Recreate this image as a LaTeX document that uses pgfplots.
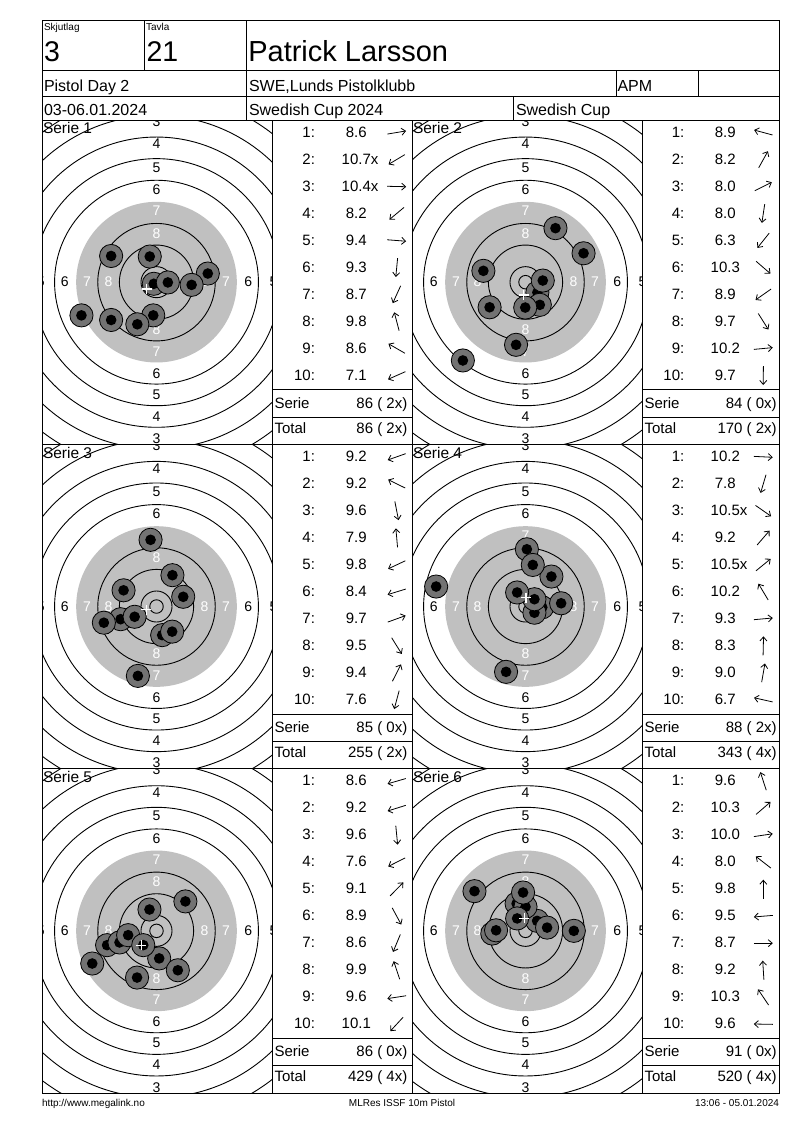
\documentclass[border=0pt]{standalone}
\usepackage{fontspec}
\setmainfont{Liberation Sans}
\usepackage{pgfplots}
\pgfplotsset{compat=1.18}
\usetikzlibrary{arrows.meta}
\definecolor{tgray}{RGB}{192,192,192}
\definecolor{sgray}{RGB}{115,115,115}
\newcommand\fs[1]{\fontsize{#1}{#1}\selectfont}

\pgfdeclareplotmark{shot}{%
  \pgfsetfillcolor{sgray}\pgfsetstrokecolor{black}%
  \pgfpathcircle{\pgfpointorigin}{\pgfplotmarksize}%
  \pgfusepath{fill,stroke}%
  \pgfsetfillcolor{black}%
  \pgfpathcircle{\pgfpointorigin}{0.46\pgfplotmarksize}%
  \pgfusepath{fill}%
}

\newcommand\target{%
  \fill[tgray] (axis cs:0,0) circle[radius=29.75];
  \draw[line width=0.9pt] (axis cs:0,0) circle[radius=2.5];
  \draw[line width=0.9pt] (axis cs:0,0) circle[radius=5.75];
  \draw[line width=0.9pt] (axis cs:0,0) circle[radius=13.75];
  \draw[line width=0.9pt] (axis cs:0,0) circle[radius=21.75];
  \draw[line width=0.9pt] (axis cs:0,0) circle[radius=37.75];
  \draw[line width=0.9pt] (axis cs:0,0) circle[radius=45.75];
  \draw[line width=0.9pt] (axis cs:0,0) circle[radius=53.75];
  \draw[line width=0.9pt] (axis cs:0,0) circle[radius=61.75];
  \draw[line width=0.9pt] (axis cs:0,0) circle[radius=69.75];
  \begin{scope}
  \clip (rel axis cs:0,0) rectangle (rel axis cs:1,1);
  \node[text=white,font=\fs{14}] at (axis cs:0,18.1) {8};
  \node[text=white,font=\fs{14}] at (axis cs:0,26.3) {7};
  \node[font=\fs{14}] at (axis cs:0,34.3) {6};
  \node[font=\fs{14}] at (axis cs:0,42.5) {5};
  \node[font=\fs{14}] at (axis cs:0,51.2) {4};
  \node[font=\fs{14}] at (axis cs:0,59.6) {3};
  \node[text=white,font=\fs{14}] at (axis cs:0,-17.6) {8};
  \node[text=white,font=\fs{14}] at (axis cs:0,-25.6) {7};
  \node[font=\fs{14}] at (axis cs:0,-33.8) {6};
  \node[font=\fs{14}] at (axis cs:0,-41.6) {5};
  \node[font=\fs{14}] at (axis cs:0,-49.7) {4};
  \node[font=\fs{14}] at (axis cs:0,-58.0) {3};
  \node[text=white,font=\fs{14}] at (axis cs:-17.75,0) {8};
  \node[text=white,font=\fs{14}] at (axis cs:-25.75,0) {7};
  \node[font=\fs{14}] at (axis cs:-34.0,0) {6};
  \node[font=\fs{14}] at (axis cs:-42.9,0) {5};
  \node[text=white,font=\fs{14}] at (axis cs:17.75,0) {8};
  \node[text=white,font=\fs{14}] at (axis cs:25.75,0) {7};
  \node[font=\fs{14}] at (axis cs:34.0,0) {6};
  \node[font=\fs{14}] at (axis cs:43.3,0) {5};
  \end{scope}
}

\pgfplotsset{
  tgt/.style={anchor=south west,width=230pt,height=324.33pt,scale only axis,
    axis lines=none,ticks=none,clip=true,ymin=-60.06,ymax=60.06},
  lcol/.style={xmin=-42.41,xmax=42.78},
  rcol/.style={xmin=-42.04,xmax=43.15},
  shots/.style={only marks,mark=shot,mark size=11.6pt,line width=0.8pt},
  mean/.style={only marks,mark=+,mark size=5pt,white,line width=1.3pt},
}

% #1 idx x, #2 val x, #3 arrow x, #4 panel top, #5 row, #6 score, #7 sx, #8 sy
\newcommand\trow[8]{%
  \pgfmathsetmacro\yb{#4+17.3+27*(#5-1)}%
  \pgfmathsetmacro\yc{\yb-4.8}%
  \pgfmathsetmacro\ang{atan2(#8,#7)}%
  \node[anchor=base east] at (#1,\yb) {#5:};
  \node[anchor=base west] at (#2,\yb) {#6};
  \draw[line width=0.8pt,-{Straight Barb[length=4pt,width=7pt]}]
    ({#3-9.5*cos(\ang)},{\yc+9.5*sin(\ang)}) -- ({#3+9.5*cos(\ang)},{\yc-9.5*sin(\ang)});
}
\newcommand\lrow[5]{\trow{315}{341.7}{396.7}{#1}{#2}{#3}{#4}{#5}}
\newcommand\rrow[5]{\trow{684.3}{710.7}{763.3}{#1}{#2}{#3}{#4}{#5}}
% #1 table left, #2 table right line, #3 text left, #4 text right, #5 T, #6 serie, #7 total
\newcommand\summ[7]{%
  \draw[line width=1pt] (#1,{#5+269.7}) -- (#2,{#5+269.7});
  \draw[line width=1pt] (#1,{#5+297.3}) -- (#2,{#5+297.3});
  \node[anchor=base west] at (#3,{#5+288}) {Serie};
  \node[anchor=base east] at (#4,{#5+288}) {#6};
  \node[anchor=base west] at (#3,{#5+313}) {Total};
  \node[anchor=base east] at (#4,{#5+313}) {#7};
}

\begin{document}
\begin{tikzpicture}
\path[use as bounding box, fill=white] (0,0) rectangle (800pt,-1130pt);

% ---------- Serie 1 ----------
\begin{axis}[tgt,lcol,at={(42pt,-444.33pt)}]
\target
\addplot[shots] coordinates {(19.0,3.2) (-1.0,-0.6) (4.2,-0.1) (-16.8,-14.0) (13.0,-1.0)
  (-1.2,-12.3) (-7.1,-15.6) (-2.5,9.5) (-16.8,9.7) (-27.8,-12.3)};
\addplot[mean] coordinates {(-3.7,-2.5)};
\end{axis}
% ---------- Serie 2 ----------
\begin{axis}[tgt,rcol,at={(412pt,-444.33pt)}]
\target
\addplot[shots] coordinates {(-15.6,4.2) (11.1,20.0) (21.5,10.7) (-3.5,-23.2) (-23.2,-29.0)
  (4.4,-3.8) (-13.3,-9.3) (5.3,-8.4) (6.4,0.6) (-0.1,-9.4)};
\addplot[mean] coordinates {(-0.7,-4.8)};
\end{axis}
% ---------- Serie 3 ----------
\begin{axis}[tgt,lcol,at={(42pt,-768.67pt)}]
\target
\addplot[shots] coordinates {(-13.3,-4.7) (-12.2,6.0) (2.1,-10.6) (-2.2,24.7) (-8.1,-3.8)
  (-19.5,-6.0) (9.9,3.6) (5.8,-9.3) (5.9,11.6) (-6.9,-25.7)};
\addplot[mean] coordinates {(-3.8,-1.2)};
\end{axis}
% ---------- Serie 4 ----------
\begin{axis}[tgt,rcol,at={(412pt,-768.67pt)}]
\target
\addplot[shots] coordinates {(6.2,-0.3) (-7.2,-24.2) (3.3,-2.3) (9.6,11.1) (3.3,2.7)
  (-3.1,5.2) (13.2,1.2) (0.5,21.2) (2.7,15.4) (-33.1,7.4)};
\addplot[mean] coordinates {(0.2,3.3)};
\end{axis}
% ---------- Serie 5 ----------
\begin{axis}[tgt,lcol,at={(42pt,-1093pt)}]
\target
\addplot[shots] coordinates {(-18.3,-5.3) (-13.7,-4.3) (1.0,-10.2) (-23.8,-12.1) (10.7,10.9)
  (7.9,-14.6) (-7.2,-17.3) (-2.6,7.9) (-10.5,-1.6) (-4.9,-5.3)};
\addplot[mean] coordinates {(-5.6,-5.4)};
\end{axis}
% ---------- Serie 6 ----------
\begin{axis}[tgt,rcol,at={(412pt,-1093pt)}]
\target
\addplot[shots] coordinates {(-3.3,10.1) (4.3,3.7) (8.0,1.2) (-18.9,14.7) (0.0,8.9)
  (-12.3,-1.0) (17.9,0.0) (-0.9,14.2) (-3.1,4.6) (-10.9,0.2)};
\addplot[mean] coordinates {(-0.5,4.7)};
\end{axis}

\begin{scope}[x=1pt,y=-1pt,every node/.style={inner sep=0pt,outer sep=0pt}]
% frame and grid
\draw[line width=1pt] (42,20) rectangle (779,1093);
\draw[line width=1pt] (42,70) -- (779,70);
\draw[line width=1pt] (42,96) -- (779,96);
\draw[line width=1pt] (42,120) -- (779,120);
\draw[line width=1pt] (42,444.33) -- (779,444.33);
\draw[line width=1pt] (42,768.67) -- (779,768.67);
\draw[line width=1pt] (144.3,20) -- (144.3,70);
\draw[line width=1pt] (246.7,20) -- (246.7,120);
\draw[line width=1pt] (616,70) -- (616,96);
\draw[line width=1pt] (698.3,70) -- (698.3,96);
\draw[line width=1pt] (513.3,96) -- (513.3,120);
\draw[line width=1pt] (272,120) -- (272,1093);
\draw[line width=1pt] (412,120) -- (412,1093);
\draw[line width=1pt] (642,120) -- (642,1093);

% header
\node[anchor=base west,font=\fs{10}] at (44,30) {Skjutlag};
\node[anchor=base west,font=\fs{10}] at (146,30) {Tavla};
\node[anchor=base west,font=\fs{28.5}] at (44,61.7) {3};
\node[anchor=base west,font=\fs{28.5}] at (146.5,61.7) {21};
\node[anchor=base west,font=\fs{29}] at (248.3,61.7) {Patrick Larsson};
\node[anchor=base west,font=\fs{16}] at (44,91) {Pistol Day 2};
\node[anchor=base west,font=\fs{16}] at (249,91) {SWE,Lunds Pistolklubb};
\node[anchor=base west,font=\fs{16}] at (617.5,91) {APM};
\node[anchor=base west,font=\fs{16}] at (44,115) {03-06.01.2024};
\node[anchor=base west,font=\fs{16}] at (249,115) {Swedish Cup 2024};
\node[anchor=base west,font=\fs{16}] at (516,115) {Swedish Cup};

% serie labels
\node[anchor=base west,font=\fs{15.5}] at (43,133.7) {Serie 1};
\node[anchor=base west,font=\fs{15.5}] at (413,133.7) {Serie 2};
\node[anchor=base west,font=\fs{15.5}] at (43,458) {Serie 3};
\node[anchor=base west,font=\fs{15.5}] at (413,458) {Serie 4};
\node[anchor=base west,font=\fs{15.5}] at (43,782.4) {Serie 5};
\node[anchor=base west,font=\fs{15.5}] at (413,782.4) {Serie 6};

% tables
\begin{scope}[font=\fs{15}]
% Serie 1
\lrow{120}{1}{\ 8.6}{19.0}{3.2}
\lrow{120}{2}{10.7x}{-1.0}{-0.6}
\lrow{120}{3}{10.4x}{4.2}{-0.1}
\lrow{120}{4}{\ 8.2}{-16.8}{-14.0}
\lrow{120}{5}{\ 9.4}{13.0}{-1.0}
\lrow{120}{6}{\ 9.3}{-1.2}{-12.3}
\lrow{120}{7}{\ 8.7}{-7.1}{-15.6}
\lrow{120}{8}{\ 9.8}{-2.5}{9.5}
\lrow{120}{9}{\ 8.6}{-16.8}{9.7}
\lrow{120}{10}{\ 7.1}{-27.8}{-12.3}
\summ{272}{412}{274.5}{407.3}{120}{86 ( 2x)}{86 ( 2x)}
% Serie 2
\rrow{120}{1}{\ 8.9}{-15.6}{4.2}
\rrow{120}{2}{\ 8.2}{11.1}{20.0}
\rrow{120}{3}{\ 8.0}{21.5}{10.7}
\rrow{120}{4}{\ 8.0}{-3.5}{-23.2}
\rrow{120}{5}{\ 6.3}{-23.2}{-29.0}
\rrow{120}{6}{10.3}{4.4}{-3.8}
\rrow{120}{7}{\ 8.9}{-13.3}{-9.3}
\rrow{120}{8}{\ 9.7}{5.3}{-8.4}
\rrow{120}{9}{10.2}{6.4}{0.6}
\rrow{120}{10}{\ 9.7}{-0.1}{-9.4}
\summ{642}{779}{644.5}{776.7}{120}{84 ( 0x)}{170 ( 2x)}
% Serie 3
\lrow{444.33}{1}{\ 9.2}{-13.3}{-4.7}
\lrow{444.33}{2}{\ 9.2}{-12.2}{6.0}
\lrow{444.33}{3}{\ 9.6}{2.1}{-10.6}
\lrow{444.33}{4}{\ 7.9}{-2.2}{24.7}
\lrow{444.33}{5}{\ 9.8}{-8.1}{-3.8}
\lrow{444.33}{6}{\ 8.4}{-19.5}{-6.0}
\lrow{444.33}{7}{\ 9.7}{9.9}{3.6}
\lrow{444.33}{8}{\ 9.5}{5.8}{-9.3}
\lrow{444.33}{9}{\ 9.4}{5.9}{11.6}
\lrow{444.33}{10}{\ 7.6}{-6.9}{-25.7}
\summ{272}{412}{274.5}{407.3}{444.33}{85 ( 0x)}{255 ( 2x)}
% Serie 4
\rrow{444.33}{1}{10.2}{6.2}{-0.3}
\rrow{444.33}{2}{\ 7.8}{-7.2}{-24.2}
\rrow{444.33}{3}{10.5x}{3.3}{-2.3}
\rrow{444.33}{4}{\ 9.2}{9.6}{11.1}
\rrow{444.33}{5}{10.5x}{3.3}{2.7}
\rrow{444.33}{6}{10.2}{-3.1}{5.2}
\rrow{444.33}{7}{\ 9.3}{13.2}{1.2}
\rrow{444.33}{8}{\ 8.3}{0.5}{21.2}
\rrow{444.33}{9}{\ 9.0}{2.7}{15.4}
\rrow{444.33}{10}{\ 6.7}{-33.1}{7.4}
\summ{642}{779}{644.5}{776.7}{444.33}{88 ( 2x)}{343 ( 4x)}
% Serie 5
\lrow{768.67}{1}{\ 8.6}{-18.3}{-5.3}
\lrow{768.67}{2}{\ 9.2}{-13.7}{-4.3}
\lrow{768.67}{3}{\ 9.6}{1.0}{-10.2}
\lrow{768.67}{4}{\ 7.6}{-23.8}{-12.1}
\lrow{768.67}{5}{\ 9.1}{10.7}{10.9}
\lrow{768.67}{6}{\ 8.9}{7.9}{-14.6}
\lrow{768.67}{7}{\ 8.6}{-7.2}{-17.3}
\lrow{768.67}{8}{\ 9.9}{-2.6}{7.9}
\lrow{768.67}{9}{\ 9.6}{-10.5}{-1.6}
\lrow{768.67}{10}{10.1}{-4.9}{-5.3}
\summ{272}{412}{274.5}{407.3}{768.67}{86 ( 0x)}{429 ( 4x)}
% Serie 6
\rrow{768.67}{1}{\ 9.6}{-3.3}{10.1}
\rrow{768.67}{2}{10.3}{4.3}{3.7}
\rrow{768.67}{3}{10.0}{8.0}{1.2}
\rrow{768.67}{4}{\ 8.0}{-18.9}{14.7}
\rrow{768.67}{5}{\ 9.8}{0.0}{8.9}
\rrow{768.67}{6}{\ 9.5}{-12.3}{-1.0}
\rrow{768.67}{7}{\ 8.7}{17.9}{0.0}
\rrow{768.67}{8}{\ 9.2}{-0.9}{14.2}
\rrow{768.67}{9}{10.3}{-3.1}{4.6}
\rrow{768.67}{10}{\ 9.6}{-10.9}{0.2}
\summ{642}{779}{644.5}{776.7}{768.67}{91 ( 0x)}{520 ( 4x)}
\end{scope}

% footer
\node[anchor=base west,font=\fs{10}] at (42,1106) {http://www.megalink.no};
\node[anchor=base,font=\fs{10}] at (402,1106) {MLRes ISSF 10m Pistol};
\node[anchor=base east,font=\fs{10}] at (779,1106) {13:06 - 05.01.2024};
\end{scope}
\end{tikzpicture}
\end{document}
